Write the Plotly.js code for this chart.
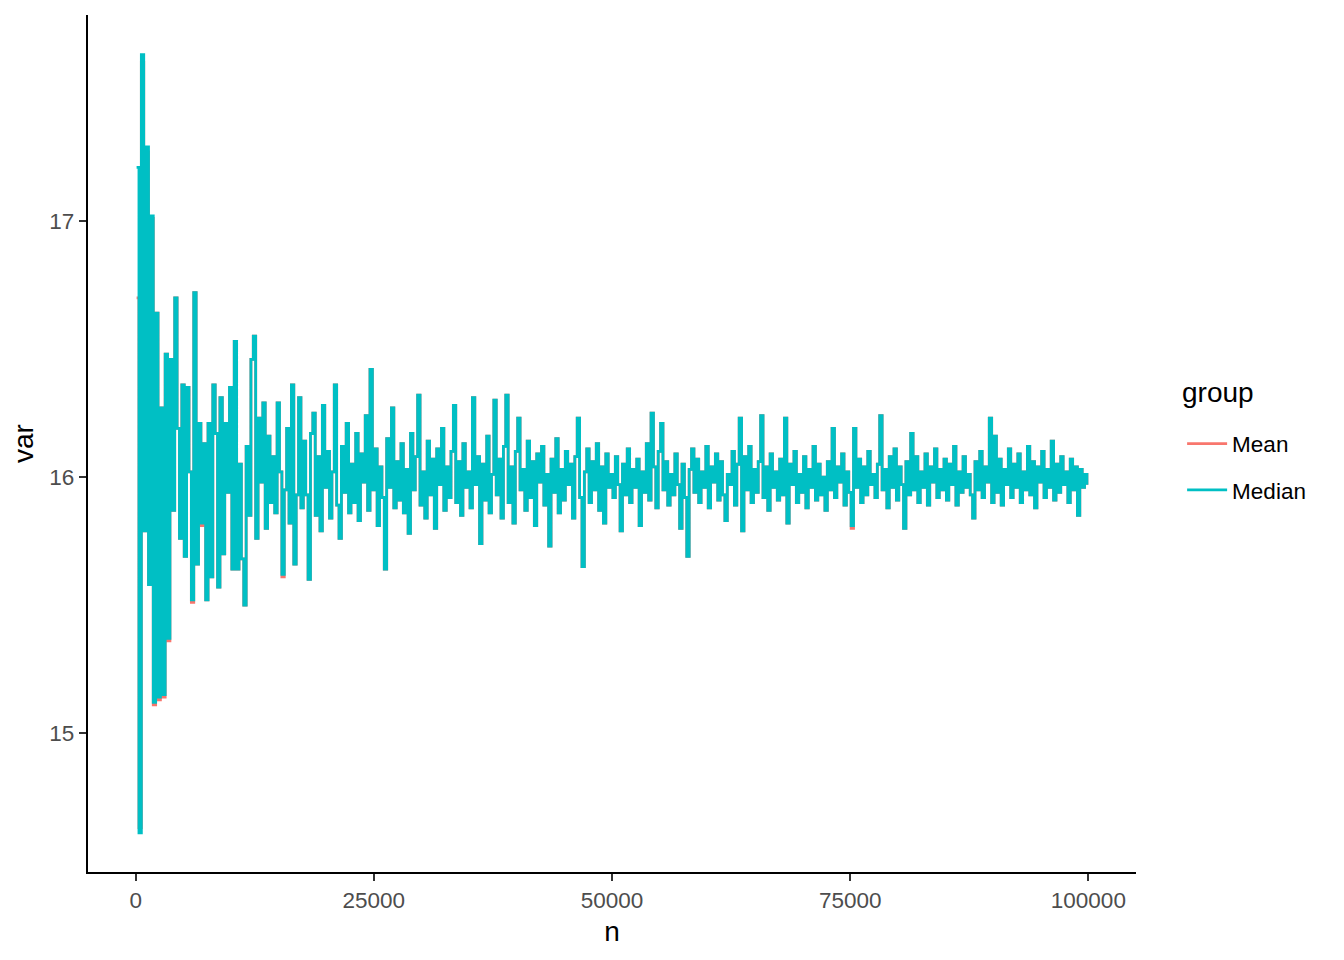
<!DOCTYPE html>
<html>
<head>
<meta charset="utf-8">
<script src="https://cdn.plot.ly/plotly-3.0.1.min.js"></script>
<style>
  html, body { margin: 0; padding: 0; background: #ffffff; }
  #chart { width: 1344px; height: 960px; }
</style>
</head>
<body>
<div id="chart"></div>
<script>
// Series names
const groups = ["Mean", "Median"];

// First sample size and spacing of the sampled n values (x positions)
const nStart = 100;
const nStep = 250;

// Median series
const median = [
  17.21, 14.61, 17.65, 15.79, 17.29, 15.58, 17.02, 15.12, 16.64, 15.14,
  16.27, 15.15, 16.48, 15.37, 16.46, 15.87, 16.70, 16.19, 15.76, 16.36,
  15.69, 16.35, 16.02, 15.52, 16.72, 15.66, 16.21, 15.82, 16.13, 15.52,
  16.21, 15.61, 16.36, 16.17, 15.57, 16.31, 15.70, 16.21, 15.94, 16.35,
  15.64, 16.53, 15.64, 16.05, 15.68, 15.50, 16.12, 15.85, 16.46, 16.55,
  15.76, 16.23, 15.98, 16.29, 15.80, 16.16, 15.90, 16.08, 15.86, 16.29,
  16.02, 15.62, 15.95, 16.19, 15.82, 16.36, 15.66, 15.93, 16.31, 15.88,
  16.14, 15.93, 15.60, 16.17, 16.25, 15.85, 16.08, 15.79, 16.28, 15.96,
  16.10, 15.84, 16.02, 16.36, 15.89, 15.76, 16.12, 15.94, 16.21, 15.86,
  16.05, 15.90, 16.17, 15.83, 16.09, 15.98, 16.24, 15.87, 16.42, 15.95,
  16.11, 15.81, 16.04, 15.92, 15.64, 16.15, 15.96, 16.27, 15.88, 16.06,
  15.91, 16.13, 15.86, 16.03, 15.78, 16.17, 15.95, 16.08, 16.32, 15.89,
  16.02, 15.84, 16.14, 15.93, 16.07, 15.80, 16.11, 15.97, 16.19, 15.87,
  16.04, 15.92, 16.10, 16.28, 15.90, 16.06, 15.85, 16.13, 15.96, 16.02,
  15.88, 16.31, 15.97, 16.08, 15.74, 16.05, 15.91, 16.16, 15.86, 16.01,
  16.30, 15.93, 16.07, 15.84, 16.12, 16.32, 15.90, 16.04, 15.82, 16.10,
  16.23, 15.95, 16.03, 15.87, 16.14, 15.92, 16.06, 15.81, 16.09, 15.98,
  16.12, 15.89, 16.01, 15.73, 16.07, 15.94, 16.15, 15.86, 16.03, 15.91,
  16.10, 15.97, 16.05, 15.84, 16.08, 16.23, 15.92, 15.65, 16.02, 16.11,
  15.90, 16.06, 15.95, 16.13, 15.87, 16.04, 15.82, 16.09, 15.96, 16.01,
  15.92, 16.08, 15.97, 15.79, 16.05, 15.93, 16.11, 15.90, 16.03, 15.96,
  16.07, 15.81, 16.02, 15.94, 16.13, 15.91, 16.25, 16.04, 15.88, 16.10,
  16.21, 15.95, 16.06, 15.89, 16.01, 15.93, 16.09, 15.97, 15.80, 16.05,
  15.92, 15.69, 16.03, 16.11, 15.94, 16.07, 15.90, 16.02, 15.96, 16.12,
  15.88, 16.04, 15.98, 16.09, 15.91, 16.06, 15.93, 15.83, 16.01, 15.97,
  16.10, 15.89, 16.05, 16.23, 15.79, 16.08, 15.95, 16.12, 15.90, 16.03,
  15.94, 16.06, 16.24, 15.92, 16.04, 15.87, 16.09, 15.96, 16.02, 15.91,
  16.07, 15.93, 16.23, 15.82, 16.05, 15.97, 16.10, 15.90, 16.01, 15.94,
  16.08, 15.88, 16.03, 15.96, 16.12, 15.91, 16.05, 15.93, 16.00, 15.87,
  16.06, 15.95, 16.19, 15.92, 16.04, 15.98, 16.09, 15.89, 16.02, 15.94,
  15.81, 16.19, 15.96, 16.07, 15.90, 16.04, 15.93, 16.10, 15.97, 16.01,
  15.92, 16.05, 16.24, 15.95, 16.03, 15.88, 16.08, 15.96, 16.11, 15.91,
  16.04, 15.97, 15.80, 16.06, 15.93, 16.17, 15.95, 16.08, 15.90, 16.02,
  15.96, 16.09, 15.89, 16.04, 15.98, 16.11, 15.92, 16.03, 15.95, 16.07,
  15.91, 16.05, 15.97, 16.12, 15.89, 16.02, 15.94, 16.08, 15.96, 16.01,
  15.93, 15.84, 16.06, 15.95, 16.10, 15.92, 16.04, 15.98, 16.23, 15.90,
  16.16, 15.94, 16.07, 15.89, 16.03, 15.97, 16.11, 15.92, 16.05, 15.96,
  16.09, 15.90, 16.02, 15.95, 16.12, 15.93, 16.06, 15.88, 16.04, 15.98,
  16.10, 15.92, 16.03, 15.96, 16.14, 15.91, 16.05, 15.94, 16.08, 15.97,
  16.02, 15.90, 16.07, 15.95, 16.04, 15.85, 16.03, 15.96, 16.01, 15.97
];

// Mean series (hidden under Median except where it shows)
const mean = [
  16.70, 14.63, 17.62, 15.79, 17.27, 15.58, 17.01, 15.11, 16.64, 15.13,
  16.27, 15.14, 16.48, 15.36, 16.46, 15.87, 16.70, 16.19, 15.76, 16.36,
  15.69, 16.35, 16.02, 15.51, 16.72, 15.66, 16.21, 15.81, 16.13, 15.52,
  16.21, 15.61, 16.36, 16.17, 15.57, 16.31, 15.70, 16.21, 15.94, 16.35,
  15.64, 16.53, 15.64, 16.05, 15.68, 15.50, 16.12, 15.85, 16.46, 16.55,
  15.76, 16.23, 15.98, 16.29, 15.80, 16.16, 15.90, 16.08, 15.86, 16.29,
  16.02, 15.61, 15.95, 16.19, 15.82, 16.36, 15.66, 15.93, 16.31, 15.88,
  16.14, 15.93, 15.60, 16.17, 16.25, 15.85, 16.08, 15.79, 16.28, 15.96,
  16.10, 15.84, 16.02, 16.36, 15.89, 15.76, 16.12, 15.94, 16.21, 15.86,
  16.05, 15.90, 16.17, 15.83, 16.09, 15.98, 16.24, 15.87, 16.42, 15.95,
  16.11, 15.81, 16.04, 15.92, 15.64, 16.15, 15.96, 16.27, 15.88, 16.06,
  15.91, 16.13, 15.86, 16.03, 15.78, 16.17, 15.95, 16.08, 16.32, 15.89,
  16.02, 15.84, 16.14, 15.93, 16.07, 15.80, 16.11, 15.97, 16.19, 15.87,
  16.04, 15.92, 16.10, 16.28, 15.90, 16.06, 15.85, 16.13, 15.96, 16.02,
  15.88, 16.31, 15.97, 16.08, 15.74, 16.05, 15.91, 16.16, 15.86, 16.01,
  16.30, 15.93, 16.07, 15.84, 16.12, 16.32, 15.90, 16.04, 15.82, 16.10,
  16.23, 15.95, 16.03, 15.87, 16.14, 15.92, 16.06, 15.81, 16.09, 15.98,
  16.12, 15.89, 16.01, 15.73, 16.07, 15.94, 16.15, 15.86, 16.03, 15.91,
  16.10, 15.97, 16.05, 15.84, 16.08, 16.23, 15.92, 15.65, 16.02, 16.11,
  15.90, 16.06, 15.95, 16.13, 15.87, 16.04, 15.82, 16.09, 15.96, 16.01,
  15.92, 16.08, 15.97, 15.79, 16.05, 15.93, 16.11, 15.90, 16.03, 15.96,
  16.07, 15.81, 16.02, 15.94, 16.13, 15.91, 16.25, 16.04, 15.88, 16.10,
  16.21, 15.95, 16.06, 15.89, 16.01, 15.93, 16.09, 15.97, 15.80, 16.05,
  15.92, 15.69, 16.03, 16.11, 15.94, 16.07, 15.90, 16.02, 15.96, 16.12,
  15.88, 16.04, 15.98, 16.09, 15.91, 16.06, 15.93, 15.83, 16.01, 15.97,
  16.10, 15.89, 16.05, 16.23, 15.79, 16.08, 15.95, 16.12, 15.90, 16.03,
  15.94, 16.06, 16.24, 15.92, 16.04, 15.87, 16.09, 15.96, 16.02, 15.91,
  16.07, 15.93, 16.23, 15.82, 16.05, 15.97, 16.10, 15.90, 16.01, 15.94,
  16.08, 15.88, 16.03, 15.96, 16.12, 15.91, 16.05, 15.93, 16.00, 15.87,
  16.06, 15.95, 16.19, 15.92, 16.04, 15.98, 16.09, 15.89, 16.02, 15.94,
  15.80, 16.19, 15.96, 16.07, 15.90, 16.04, 15.93, 16.10, 15.97, 16.01,
  15.92, 16.05, 16.24, 15.95, 16.03, 15.88, 16.08, 15.96, 16.11, 15.91,
  16.04, 15.97, 15.80, 16.06, 15.93, 16.17, 15.95, 16.08, 15.90, 16.02,
  15.96, 16.09, 15.89, 16.04, 15.98, 16.11, 15.92, 16.03, 15.95, 16.07,
  15.91, 16.05, 15.97, 16.12, 15.89, 16.02, 15.94, 16.08, 15.96, 16.01,
  15.93, 15.84, 16.06, 15.95, 16.10, 15.92, 16.04, 15.98, 16.23, 15.90,
  16.16, 15.94, 16.07, 15.89, 16.03, 15.97, 16.11, 15.92, 16.05, 15.96,
  16.09, 15.90, 16.02, 15.95, 16.12, 15.93, 16.06, 15.88, 16.04, 15.98,
  16.10, 15.92, 16.03, 15.96, 16.14, 15.91, 16.05, 15.94, 16.08, 15.97,
  16.02, 15.90, 16.07, 15.95, 16.04, 15.85, 16.03, 15.96, 16.01, 15.97
];

// Axis ticks
const xTicks = [0, 25000, 50000, 75000, 100000];
const xTickLabels = ["0", "25000", "50000", "75000", "100000"];
const yTicks = [15, 16, 17];
const yTickLabels = ["15", "16", "17"];

// Legend title
const legendTitle = "group";

const nValues = median.map((_, i) => nStart + nStep * i);

const colors = { Mean: "#F8766D", Median: "#00BFC4" };
const seriesData = { Mean: mean, Median: median };

const FONT = "Liberation Sans, Arial, Helvetica, sans-serif";

const traces = groups.map(g => ({
  type: "scatter",
  mode: "lines",
  name: g,
  legendgroup: g,
  x: nValues,
  y: seriesData[g],
  line: { color: colors[g], width: 2.8, shape: "hv" },
  hoverinfo: "skip"
}));

const layout = {
  width: 1344,
  height: 960,
  paper_bgcolor: "#ffffff",
  plot_bgcolor: "#ffffff",
  margin: { l: 88, r: 208, t: 15, b: 88 },
  font: { family: FONT, color: "#000000" },
  showlegend: true,
  legend: {
    font: { size: 22.5, color: "#000000", family: FONT },
    x: 1.044,
    xanchor: "left",
    y: 0.5245,
    yanchor: "top",
    bgcolor: "rgba(0,0,0,0)",
    borderwidth: 0,
    tracegroupgap: 14,
    itemwidth: 40
  },
  annotations: [{
    text: legendTitle,
    xref: "paper", yref: "paper",
    x: 1.042, y: 0.559,
    xanchor: "left", yanchor: "middle",
    showarrow: false,
    font: { size: 28, color: "#000000", family: FONT }
  }],
  xaxis: {
    range: [-5000, 105000],
    tickmode: "array",
    tickvals: xTicks,
    ticktext: xTickLabels,
    showgrid: false,
    zeroline: false,
    showline: true,
    linecolor: "#000000",
    linewidth: 2.2,
    ticks: "outside",
    ticklen: 7,
    tickwidth: 2.2,
    tickcolor: "#333333",
    tickfont: { size: 22.5, color: "#4D4D4D", family: FONT },
    title: { text: "n", font: { size: 28, color: "#000000", family: FONT }, standoff: 9 },
    automargin: false
  },
  yaxis: {
    range: [14.457, 17.805],
    tickmode: "array",
    tickvals: yTicks,
    ticktext: yTickLabels,
    showgrid: false,
    zeroline: false,
    showline: true,
    linecolor: "#000000",
    linewidth: 2.2,
    ticks: "outside",
    ticklen: 7,
    tickwidth: 2.2,
    tickcolor: "#333333",
    tickfont: { size: 22.5, color: "#4D4D4D", family: FONT },
    title: { text: "var", font: { size: 28, color: "#000000", family: FONT }, standoff: 8 },
    automargin: false
  }
};

Plotly.newPlot("chart", traces, layout, { displayModeBar: false, staticPlot: true });
</script>
</body>
</html>
